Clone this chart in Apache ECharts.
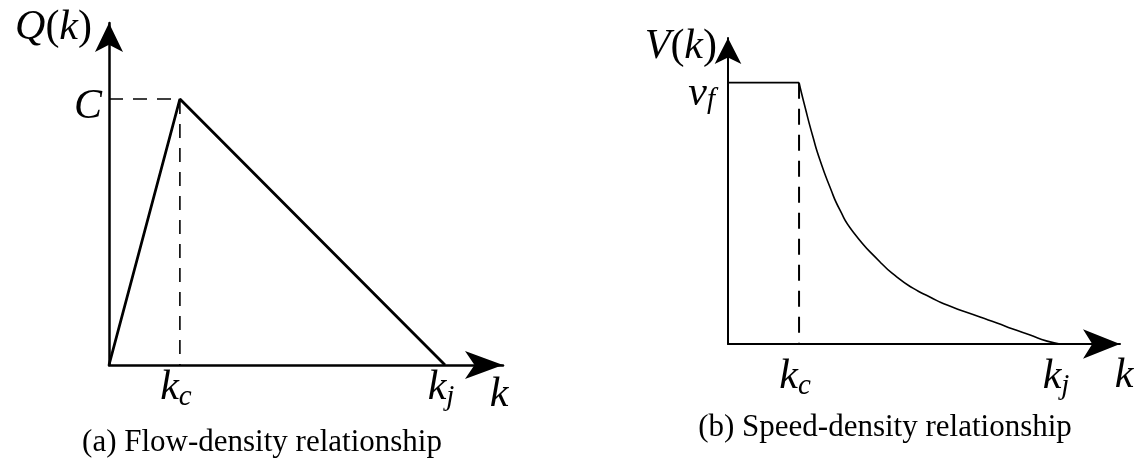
<!DOCTYPE html>
<html>
<head>
<meta charset="utf-8">
<script src="https://cdn.jsdelivr.net/npm/echarts@6/dist/echarts.min.js"></script>
<style>
  html, body { margin: 0; padding: 0; background: #fff; }
  #chart { width: 1141px; height: 461px; }
</style>
</head>
<body>
<div id="chart"></div>
<script>
// ---- (a) triangular flow-density diagram, normalised so that k_j = 1 and C = 1
const kcA = 0.211;
const kjA = 1;
const capacity = 1;
const flowPoints = [[0, 0], [kcA, capacity], [kjA, 0]];
const capacityGuide = [[0, capacity], [kcA, capacity], [kcA, 0]];
const xTicksA = [kcA, kjA];
const xTickTextA = ['{m|k}{s|c}', '{m|k}{s|j}'];
const yTicksA = [capacity];
const yTickTextA = ['{m|C}'];

// ---- (b) speed-density relation, normalised so that k_j = 1 and v_f = 1
const kcB = 0.214;
const kjB = 1;
const vFree = 1;
const freeFlowSpeed = [[0, vFree], [kcB, vFree]];
const criticalGuide = [[kcB, vFree], [kcB, 0]];
const congestedSpeed = [
  [0.214, 1.000], [0.232, 0.907], [0.256, 0.792], [0.277, 0.704],
  [0.307, 0.601], [0.337, 0.513], [0.377, 0.429], [0.458, 0.314],
  [0.509, 0.256], [0.557, 0.214], [0.608, 0.180], [0.660, 0.149],
  [0.759, 0.103], [0.810, 0.080], [0.858, 0.057], [0.910, 0.034],
  [0.961, 0.011], [1.000, 0.000]
];
const xTicksB = [kcB, kjB];
const xTickTextB = ['{m|k}{s|c}', '{m|k}{s|j}'];
const yTicksB = [vFree];
const yTickTextB = ['{m|v}{f|f}'];

const captions = ['(a) Flow-density relationship', '(b) Speed-density relationship'];

// ---- shared text styles (math italic + subscripts)
const SERIF = '"Liberation Serif", "DejaVu Serif", serif';
const math = { fontFamily: SERIF, fontStyle: 'italic', fontSize: 42, color: '#000' };
const rich = {
  m: Object.assign({}, math),
  r: Object.assign({}, math, { fontStyle: 'normal' }),
  s: Object.assign({}, math, { fontSize: 29, padding: [20, 0, 0, 0] }),
  f: Object.assign({}, math, { fontSize: 29, padding: [14, 0, 0, 0] })
};

function pick(list, texts) {
  return function (v) {
    for (let i = 0; i < list.length; i++) {
      if (Math.abs(list[i] - v) < 1e-6) return texts[i];
    }
    return '';
  };
}

function axisBase(width, arrowSize) {
  return {
    type: 'value',
    min: 0,
    splitLine: { show: false },
    axisTick: { show: false },
    axisLine: {
      show: true,
      symbol: ['none', 'arrow'],
      symbolSize: arrowSize,
      lineStyle: { color: '#000', width: width }
    }
  };
}

const chart = echarts.init(document.getElementById('chart'), null, { renderer: 'canvas' });

const captionStyle = { fontFamily: SERIF, fontSize: 31, fontWeight: 'normal', color: '#000' };

chart.setOption({
  animation: false,
  backgroundColor: '#fff',
  title: [
    { text: captions[0], left: 257, top: 422, textAlign: 'center', textStyle: captionStyle },
    { text: captions[1], left: 880, top: 407, textAlign: 'center', textStyle: captionStyle }
  ],
  grid: [
    { left: 109, top: 23, width: 394, height: 342, containLabel: false, outerBoundsMode: 'none' },
    { left: 728, top: 38, width: 392, height: 306, containLabel: false, outerBoundsMode: 'none' }
  ],
  xAxis: [
    Object.assign(axisBase(2.5, [21, 38]), {
      gridIndex: 0, max: 1.1726,
      name: '{m|k}', nameLocation: 'end', nameGap: -4,
      nameTextStyle: { align: 'center', verticalAlign: 'middle', padding: [60, 0, 0, 0], rich: rich },
      axisLabel: {
        customValues: xTicksA, margin: -2, formatter: pick(xTicksA, xTickTextA),
        padding: [0, 8, 0, 0], rich: rich
      }
    }),
    Object.assign(axisBase(2, [22, 37]), {
      gridIndex: 1, max: 1.1807,
      name: '{m|k}', nameLocation: 'end', nameGap: 4,
      nameTextStyle: { align: 'center', verticalAlign: 'middle', padding: [64, 0, 0, 0], rich: rich },
      axisLabel: {
        customValues: xTicksB, margin: 8, formatter: pick(xTicksB, xTickTextB),
        padding: [0, 8, 0, 0], rich: rich
      }
    })
  ],
  yAxis: [
    Object.assign(axisBase(2.5, [21, 29]), {
      gridIndex: 0, max: 1.2857,
      name: '{m|Q}{r|(}{m|k}{r|)}', nameLocation: 'end', nameGap: -5,
      nameTextStyle: { align: 'right', verticalAlign: 'middle', padding: [0, 17, 0, 0], rich: rich },
      axisLabel: {
        customValues: yTicksA, margin: 7, formatter: pick(yTicksA, yTickTextA),
        padding: [16, 0, 0, 0], rich: rich
      }
    }),
    Object.assign(axisBase(2, [20, 26]), {
      gridIndex: 1, max: 1.1711,
      name: '{m|V}{r|(}{m|k}{r|)}', nameLocation: 'end', nameGap: -9,
      nameTextStyle: { align: 'right', verticalAlign: 'middle', padding: [0, 11, 0, 0], rich: rich },
      axisLabel: {
        customValues: yTicksB, margin: 13, formatter: pick(yTicksB, yTickTextB),
        padding: [22, 0, 0, 0], rich: rich
      }
    })
  ],
  series: [
    { type: 'line', xAxisIndex: 0, yAxisIndex: 0, data: capacityGuide, symbol: 'none', z: 1,
      lineStyle: { color: '#000', width: 1.6, type: [14, 10] } },
    { type: 'line', xAxisIndex: 0, yAxisIndex: 0, data: flowPoints, symbol: 'none', z: 3,
      lineStyle: { color: '#000', width: 2.8 } },
    { type: 'line', xAxisIndex: 1, yAxisIndex: 1, data: criticalGuide, symbol: 'none', z: 1,
      lineStyle: { color: '#000', width: 2, type: [16, 10] } },
    { type: 'line', xAxisIndex: 1, yAxisIndex: 1, data: freeFlowSpeed, symbol: 'none', z: 3,
      lineStyle: { color: '#000', width: 1.8 } },
    { type: 'line', xAxisIndex: 1, yAxisIndex: 1, data: congestedSpeed, symbol: 'none', z: 3,
      smooth: 0.6,
      lineStyle: { color: '#000', width: 1.6 } }
  ]
});
</script>
</body>
</html>
